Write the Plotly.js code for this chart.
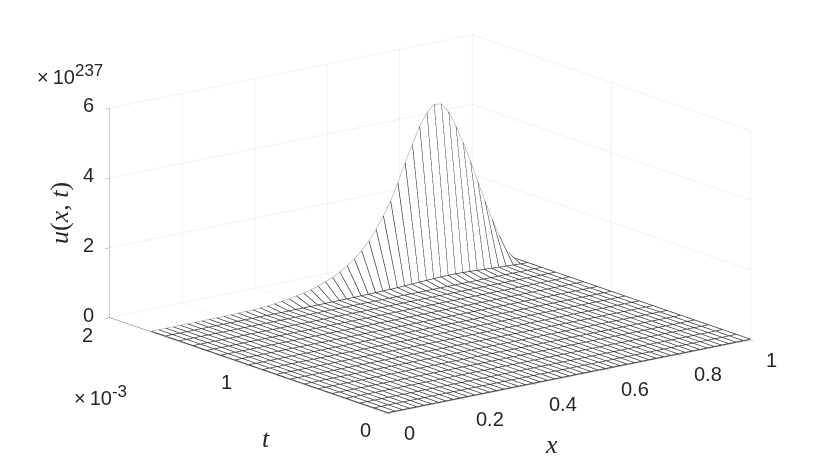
<!DOCTYPE html>
<html>
<head>
<meta charset="utf-8">
<script src="https://cdn.plot.ly/plotly-3.0.1.min.js"></script>
<style>html,body{margin:0;padding:0;background:#fff}#chart{width:830px;height:465px}</style>
</head>
<body>
<div id="chart"></div>
<script>
// grid of the mesh, t in units of 1e-3
const xValues = [0,0.02,0.04,0.06,0.08,0.1,0.12,0.14,0.16,0.18,0.2,0.22,0.24,0.26,0.28,0.3,0.32,0.34,0.36,0.38,0.4,0.42,0.44,0.46,0.48,0.5,0.52,0.54,0.56,0.58,0.6,0.62,0.64,0.66,0.68,0.7,0.72,0.74,0.76,0.78,0.8,0.82,0.84,0.86,0.88,0.9,0.92,0.94,0.96,0.98,1];
const tValues = [0,0.1,0.2,0.3,0.4,0.5,0.6,0.7,0.8,0.9,1,1.1,1.2,1.3,1.4,1.5,1.6,1.7];

const lastRow = [0,0,0,0,0,0,0,0,0.002,0.003,0.005,0.008,0.012,0.018,0.025,0.035,0.05,0.07,0.1,0.13,0.17,0.21,0.26,0.32,0.41,0.49,0.6,0.74,0.89,1.09,1.33,1.62,1.96,2.35,2.83,3.36,3.84,4.32,4.66,4.86,4.83,4.56,4.11,3.59,3.03,2.41,1.8,1.23,0.71,0.24,0];
// the row before it is nearly flat already
const prevRow = [0,0,0,0,0,0,0,0,0,0,0,0,0,0,0,0.001,0.001,0.001,0.002,0.003,0.003,0.004,0.005,0.006,0.008,0.01,0.012,0.015,0.018,0.022,0.027,0.032,0.039,0.047,0.057,0.067,0.077,0.086,0.093,0.097,0.097,0.091,0.082,0.072,0.061,0.048,0.036,0.025,0.014,0.005,0];

const tickX = [0,0.2,0.4,0.6,0.8,1];
const tickT = [0,1,2];
const tickZ = [0,2,4,6];

const zRows = tValues.map(function(t, i) {
    if (i === tValues.length - 1) return lastRow;
    if (i === tValues.length - 2) return prevRow;
    return xValues.map(function() { return 0; });
});

const meshColor = "#333333";
const ridgeColor = "#999999";
const gridColor = "#e6e6e6";
const textFont = { family: "Liberation Sans, Arial, sans-serif", size: 20, color: "#262626" };
const mathFont = { family: "Liberation Serif, serif", size: 26, color: "#262626" };

// white surface hides what lies behind the mesh
const face = {
    type: "surface",
    x: xValues,
    y: tValues,
    z: zRows,
    showscale: false,
    hoverinfo: "skip",
    colorscale: [[0, "#ffffff"], [1, "#ffffff"]],
    lighting: { ambient: 1, diffuse: 0, specular: 0, roughness: 1, fresnel: 0 }
};

// mesh lines run a hair above the surface so they don't fight with it
const lift = 0.02;
const lineX = [], lineT = [], lineU = [];
tValues.forEach(function(t, i) {
    if (i === tValues.length - 1) return; // ridge is its own trace
    xValues.forEach(function(x, j) {
        lineX.push(x); lineT.push(t); lineU.push(zRows[i][j] + lift);
    });
    lineX.push(null); lineT.push(null); lineU.push(null);
});
xValues.forEach(function(x, j) {
    tValues.forEach(function(t, i) {
        lineX.push(x); lineT.push(t); lineU.push(zRows[i][j] + lift);
    });
    lineX.push(null); lineT.push(null); lineU.push(null);
});

const meshLines = {
    type: "scatter3d",
    mode: "lines",
    x: lineX,
    y: lineT,
    z: lineU,
    connectgaps: false,
    hoverinfo: "skip",
    line: { color: meshColor, width: 1.4 }
};

const ridgeLine = {
    type: "scatter3d",
    mode: "lines",
    x: xValues,
    y: xValues.map(function() { return tValues[tValues.length - 1]; }),
    z: lastRow.map(function(u) { return u + lift; }),
    hoverinfo: "skip",
    line: { color: ridgeColor, width: 1 }
};

function axisStyle(range, ticks, lineColor) {
    return {
        title: { text: "" },
        range: range,
        tickmode: "array",
        tickvals: ticks,
        showticklabels: false,
        ticks: "outside",
        ticklen: 6,
        tickcolor: lineColor,
        showline: true,
        linecolor: lineColor,
        linewidth: 1,
        showgrid: true,
        gridcolor: gridColor,
        gridwidth: 1,
        zeroline: false,
        showbackground: false,
        showspikes: false
    };
}

// tick labels sit on the axes, so they follow the scene
const xLabels = tickX.map(function(v) {
    return { x: v, y: 0, z: 0, text: String(v), showarrow: false, xanchor: "left", yanchor: "middle", xshift: 14, yshift: -20, font: textFont };
});
const tLabels = tickT.map(function(v) {
    return { x: 0, y: v, z: 0, text: String(v), showarrow: false, xanchor: "center", yanchor: "middle", xshift: -22, yshift: -17, font: textFont };
});
const zLabels = tickZ.map(function(v) {
    return { x: 0, y: 2, z: v, text: String(v), showarrow: false, xanchor: "center", yanchor: "middle", xshift: -21, yshift: 3, font: textFont };
});

const layout = {
    width: 830,
    height: 465,
    margin: { l: 0, r: 0, t: 0, b: 0 },
    paper_bgcolor: "#ffffff",
    showlegend: false,
    scene: {
        domain: { x: [0.036, 1], y: [0.0366, 1] },
        bgcolor: "#ffffff",
        aspectmode: "manual",
        aspectratio: { x: 2.04, y: 2.04, z: 0.969 },
        camera: {
            projection: { type: "orthographic" },
            up: { x: 0, y: 0, z: 1 },
            center: { x: 0, y: 0, z: 0 },
            eye: { x: -1.174, y: -1.53, z: 0.528 }
        },
        xaxis: axisStyle([0, 1], tickX, "#666666"),
        yaxis: axisStyle([0, 2], tickT, "#666666"),
        zaxis: axisStyle([0, 6], tickZ, "#999999"),
        annotations: xLabels.concat(tLabels, zLabels)
    },
    annotations: [
        { xref: "paper", yref: "paper", x: 35 / 830, y: 1 - 75 / 465, xanchor: "left", yanchor: "middle", showarrow: false, text: "×\u200910<sup><span style=\"font-size:17px\">237</span></sup>", font: textFont },
        { xref: "paper", yref: "paper", x: 72 / 830, y: 1 - 395 / 465, xanchor: "left", yanchor: "middle", showarrow: false, text: "×\u200910<sup><span style=\"font-size:17px\">-3</span></sup>", font: textFont },
        { xref: "paper", yref: "paper", x: 60 / 830, y: 1 - 213 / 465, xanchor: "center", yanchor: "middle", textangle: -90, showarrow: false, text: "<i>u</i>(<i>x</i>, <i>t</i>)", font: mathFont },
        { xref: "paper", yref: "paper", x: 266 / 830, y: 1 - 438 / 465, xanchor: "center", yanchor: "middle", showarrow: false, text: "<i>t</i>", font: mathFont },
        { xref: "paper", yref: "paper", x: 551 / 830, y: 1 - 444 / 465, xanchor: "center", yanchor: "middle", showarrow: false, text: "<i>x</i>", font: mathFont }
    ]
};

Plotly.newPlot("chart", [face, meshLines, ridgeLine], layout, { displayModeBar: false });
</script>
</body>
</html>
